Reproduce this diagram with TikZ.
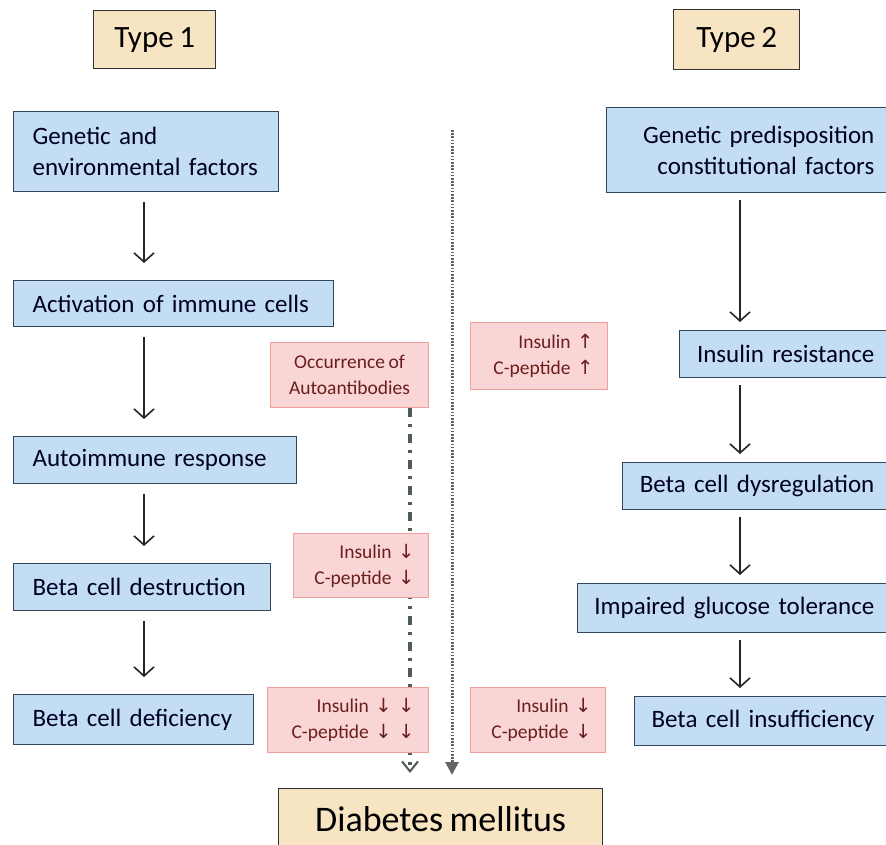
\documentclass[tikz,border=0pt]{standalone}
\usepackage{fontspec}
\setmainfont{Carlito}[WordSpace=0.8]
\newfontfamily\arrowfont{DejaVu Sans}
\usetikzlibrary{arrows.meta}

\definecolor{boxblue}{HTML}{C3DDF3}
\definecolor{blueline}{HTML}{34445A}
\definecolor{boxtan}{HTML}{F7E4C2}
\definecolor{boxpink}{HTML}{FAD5D5}
\definecolor{pinkline}{HTML}{EF9E9E}
\definecolor{pinktext}{HTML}{6A1E1E}
\definecolor{guideline}{HTML}{4E5D52}

\newcommand*{\up}{{\arrowfont\char"2191}}
\newcommand*{\down}{{\arrowfont\char"2193}}

\begin{document}
\begin{tikzpicture}
[
	x=1pt,y=-1pt,
	bluebox/.style={draw=blueline,fill=boxblue,line width=1.3pt,inner ysep=0pt,
		font=\fontsize{25}{31}\selectfont,text=black!85!blue},
	leftbox/.style={bluebox,inner xsep=19pt,anchor=north west,align=left},
	rightbox/.style={bluebox,inner xsep=15pt,anchor=north east,align=right},
	pinkbox/.style={draw=pinkline,fill=boxpink,line width=1pt,inner xsep=14pt,inner ysep=0pt,
		anchor=north west,font=\fontsize{19.5}{26}\selectfont,text=pinktext},
	tanbox/.style={draw=black!80,fill=boxtan,line width=1.3pt,inner sep=0pt,anchor=north west},
	flow/.style={-{Straight Barb[length=9pt,width=20pt]},line width=1.6pt,black!85}
]

	\useasboundingbox (0,0) rectangle (886,845);

	% headings
	\node[tanbox,minimum width=122pt,minimum height=58pt,font=\fontsize{31}{36}\selectfont] (type1) at (93,10) {Type 1};
	\node[tanbox,minimum width=126pt,minimum height=60pt,font=\fontsize{31}{36}\selectfont] (type2) at (673,9) {Type 2};
	\node[tanbox,minimum width=324pt,minimum height=60pt,font=\fontsize{36}{42}\selectfont] (dm) at (278,788) {Diabetes mellitus};

	% type 1 path
	\node[leftbox,text width=227pt,minimum height=80pt] (gen1) at (13,111) {\mbox{Genetic and}\\\mbox{environmental factors}};
	\node[leftbox,text width=282pt,minimum height=46pt] (act) at (13,280) {\mbox{Activation of immune cells}};
	\node[leftbox,text width=245pt,minimum height=47pt] (auto) at (13,436) {\mbox{Autoimmune response}};
	\node[leftbox,text width=219pt,minimum height=47pt] (destr) at (13,563) {\mbox{Beta cell destruction}};
	\node[leftbox,text width=202pt,minimum height=50pt] (defic) at (13,694) {\mbox{Beta cell deficiency}};

	% type 2 path
	\node[rightbox,text width=253pt,minimum height=85pt] (gen2) at (890,107) {\mbox{Genetic predisposition}\\\mbox{constitutional factors}};
	\node[rightbox,text width=180pt,minimum height=47pt] (res) at (890,330) {\mbox{Insulin resistance}};
	\node[rightbox,text width=237pt,minimum height=47pt] (dysreg) at (890,462) {\mbox{Beta cell dysregulation}};
	\node[rightbox,text width=282pt,minimum height=49pt] (igt) at (890,583) {\mbox{Impaired glucose tolerance}};
	\node[rightbox,text width=225pt,minimum height=49pt] (insuff) at (890,696) {\mbox{Beta cell insufficiency}};

	% arrows
	\coordinate (lcol) at (144,0);
	\coordinate (rcol) at (740,0);
	\foreach \a/\b in {gen1/act,act/auto,auto/destr,destr/defic} {
		\draw[flow,shorten <=10pt,shorten >=17pt] (\a.south -| lcol) -- (\b.north -| lcol);
	}
	\foreach \a/\b in {gen2/res,res/dysreg,dysreg/igt,igt/insuff} {
		\draw[flow,shorten <=7pt,shorten >=8pt] (\a.south -| rcol) -- (\b.north -| rcol);
	}

	% markers
	\node[pinkbox,align=center,inner xsep=0pt,minimum width=158pt,minimum height=65pt] (occ) at (270,342) {Occurrence of\\Autoantibodies};
	\coordinate (dtop) at (452,130);
	\coordinate (dashx) at (410,0);
	\draw[guideline,line width=3.4pt,dash pattern=on 9pt off 7pt on 3pt off 7pt,
		-{Straight Barb[length=10pt,width=16pt,line width=2pt]},shorten >=15pt] (occ.south -| dashx) -- (dm.north -| dashx);
	\draw[black!60,line width=3pt,dash pattern=on 1.6pt off 1.6pt,
		-{Triangle[length=13pt,width=13pt]},shorten >=13pt] (dtop) -- (dm.north -| dtop);

	\node[pinkbox,align=right,text width=109pt,minimum height=67pt] (insup) at (470,322) {\mbox{Insulin \up}\\\mbox{C-peptide \up}};
	\node[pinkbox,align=right,text width=107pt,minimum height=64pt] (insdn) at (293,533) {\mbox{Insulin \down}\\\mbox{C-peptide \down}};
	\node[pinkbox,align=right,text width=133pt,minimum height=65pt] (insdd) at (267,687) {\mbox{Insulin \down\ \down}\\\mbox{C-peptide \down\ \down}};
	\node[pinkbox,align=right,text width=107pt,minimum height=65pt] (insdr) at (470,687) {\mbox{Insulin \down}\\\mbox{C-peptide \down}};

\end{tikzpicture}
\end{document}
